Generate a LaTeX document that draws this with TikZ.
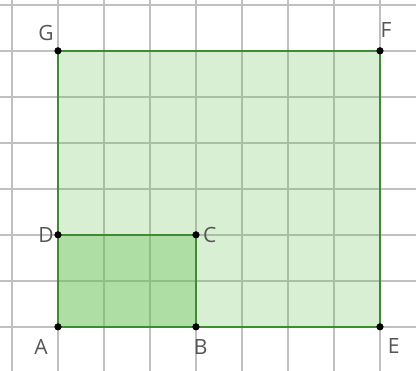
\documentclass[tikz,border=0pt]{standalone}
\usepackage{fontspec}
\setmainfont{Open Sans}
\usepackage{tikz}
\usetikzlibrary{calc}

\definecolor{gridgray}{RGB}{192,192,192}
\definecolor{leaf}{RGB}{100,190,80}
\definecolor{edge}{RGB}{60,140,50}
\definecolor{lab}{RGB}{85,85,85}

\tikzset{
	gridline/.style={gridgray, line width=0.9pt},
	side/.style={edge, line width=1.5pt},
	lbl/.style={lab, font=\fontsize{13}{15}\selectfont}
}

\begin{document}
\begin{tikzpicture}[scale=1]
	\useasboundingbox (-1.26,-0.96) rectangle (7.783,7.105);
	\clip (-1.26,-0.96) rectangle (7.783,7.105);
	
	% grid
	\draw[gridline] (-2,-2) grid (9,8);
	
	\coordinate (A) at (0,0);
	\coordinate (B) at (3,0);
	\coordinate (C) at (3,2);
	\coordinate (D) at (0,2);
	\coordinate (E) at (7,0);
	\coordinate (F) at (7,6);
	\coordinate (G) at (0,6);
	
	% big square
	\fill[leaf, opacity=0.25] (A) -- (E) -- (F) -- (G) -- cycle;
	% small rectangle
	\fill[leaf, opacity=0.35] (A) -- (B) -- (C) -- (D) -- cycle;
	
	\draw[side] (A) -- (E) -- (F) -- (G) -- cycle;
	\draw[side] (B) -- (C) -- (D);
	
	% dots
	\foreach \p in {A,B,C,D,E,F,G}
		\draw[fill=black] (\p) circle (2pt);
	
	% labels
	\node[lbl, anchor=north east, xshift=-1mm, yshift=-1.4mm] at (A) {A};
	\node[lbl, anchor=north, xshift=1mm, yshift=-1.6mm] at (B) {B};
	\node[lbl, anchor=west, xshift=0.3mm] at (C) {C};
	\node[lbl, anchor=east, xshift=0.3mm] at (D) {D};
	\node[lbl, anchor=north west, xshift=0.5mm, yshift=-1.2mm] at (E) {E};
	\node[lbl, anchor=south west, xshift=-1.1mm, yshift=1.6mm] at (F) {F};
	\node[lbl, anchor=south east, xshift=0.3mm, yshift=1mm] at (G) {G};
\end{tikzpicture}
\end{document}
